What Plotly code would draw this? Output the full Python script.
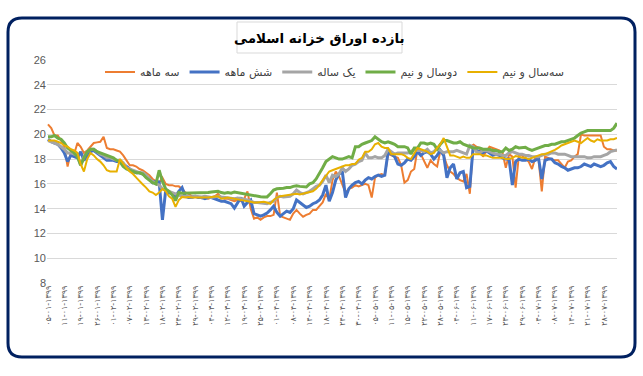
import plotly.graph_objects as go

# ---------------- data ----------------
series_names = ["سه ماهه", "شش ماهه", "یک ساله", "دوسال و نیم", "سه‌سال و نیم"]

three_month = [
    20.8, 20.5, 19.9, 19.9, 19.5, 19.0, 17.4, 18.6, 18.4, 19.3,
    19.0, 18.5, 18.7, 19.0, 19.3, 19.35, 19.4, 19.8, 18.9, 18.8,
    18.8, 18.7, 18.6, 18.3, 17.9, 17.5, 17.5, 17.4, 17.2, 17.1,
    16.9, 16.7, 16.4, 16.2, 16.1, 16.5, 16.0, 15.9, 15.9, 15.8,
    15.8, 15.6, 15.3, 15.2, 15.0, 15.0, 14.9, 14.85, 14.9, 14.8,
    14.9, 15.0, 15.2, 14.9, 14.8, 14.8, 14.7, 14.6, 14.7, 14.6,
    14.8, 15.4, 14.0, 13.2, 13.3, 13.1, 13.3, 13.4, 13.4, 13.5,
    15.3, 13.4, 13.3, 13.2, 13.1, 13.6, 13.9, 13.6, 13.35, 13.5,
    13.6, 13.9, 13.9, 14.2, 14.5, 15.2, 14.7, 16.3, 17.0, 16.6,
    16.0, 15.3, 15.6, 15.7, 15.9, 15.8, 15.9, 16.0, 15.9, 14.9,
    16.5, 16.7, 16.8, 16.7, 18.4, 18.3, 18.2, 18.1, 17.5, 16.1,
    16.3, 17.0, 17.2, 18.8, 18.4, 17.8, 17.3, 17.9, 17.6, 17.4,
    18.7, 18.3, 17.5, 17.0, 16.8, 16.5, 16.3, 16.2, 16.8, 15.2,
    19.2, 19.0, 18.9, 18.2, 18.6, 19.0, 18.9, 18.8, 18.7, 18.5,
    17.3, 18.4, 18.2, 15.7, 18.3, 18.3, 18.0, 17.8, 17.2, 18.1,
    18.0, 15.4, 18.2, 18.1, 18.0, 17.9, 17.9, 17.6, 17.3, 17.8,
    17.9, 18.2, 18.4, 20.0, 19.9, 19.9, 19.9, 19.9, 19.9, 19.9,
    19.0, 18.8, 18.8, 18.7, 18.7,
]

six_month = [
    19.6, 19.4, 19.3, 19.2, 18.9, 18.5, 17.8, 18.3, 18.2, 18.1,
    18.6, 17.9, 18.3, 18.6, 18.7, 18.5, 18.3, 18.1, 17.9, 17.9,
    17.9, 17.8, 17.8, 17.6, 17.4, 17.2, 17.0, 16.9, 16.9, 16.8,
    16.6, 16.4, 16.1, 16.2, 16.15, 13.1, 15.5, 15.3, 15.2, 15.0,
    15.4, 15.7, 15.0, 14.9, 14.9, 15.0, 14.9, 14.9, 14.8, 14.9,
    14.9, 14.8, 14.7, 14.6, 14.6, 14.5, 14.4, 14.05, 14.5, 14.9,
    14.2, 14.5, 14.7, 13.6, 13.5, 13.4, 13.5, 13.65, 13.9, 14.2,
    13.7, 13.4, 13.6, 13.8, 13.7, 14.0, 14.7, 14.5, 14.3, 14.1,
    14.2, 14.4, 14.5, 14.7, 15.1, 15.9, 14.6, 15.3, 16.3, 16.8,
    17.0, 14.9, 15.6, 15.9, 16.1, 16.2, 16.0, 16.3, 16.5, 16.4,
    16.6, 16.7, 16.6, 16.7, 18.6, 18.4, 18.2, 17.6, 17.5, 17.7,
    18.0, 17.9, 18.2, 18.6, 18.3, 18.5, 18.6, 18.4, 18.0, 18.3,
    18.7, 18.3, 16.5, 17.3, 17.6, 16.4, 16.9, 17.0, 15.7, 15.8,
    18.9, 18.7, 18.6, 18.5, 18.7, 18.5, 18.3, 18.4, 18.3, 18.1,
    18.0, 18.0, 15.9, 17.8, 18.0, 17.9, 17.9, 18.0, 17.8, 17.9,
    18.1, 16.4, 17.9, 18.0, 18.0, 17.7, 17.6, 17.4, 17.3, 17.1,
    17.2, 17.3, 17.3, 17.4, 17.6, 17.5, 17.4, 17.6, 17.5, 17.4,
    17.5, 17.7, 17.8, 17.4, 17.2,
]

one_year = [
    19.5, 19.4, 19.3, 19.2, 19.0, 18.8, 18.5, 18.5, 18.4, 18.3,
    17.5, 18.2, 18.6, 18.8, 18.8, 18.6, 18.4, 18.3, 18.1, 18.1,
    18.0, 17.9, 17.9, 17.7, 17.3, 17.2, 17.1, 17.0, 16.9, 16.9,
    16.7, 16.4, 16.2, 16.0, 15.9, 15.6, 15.5, 15.4, 15.3, 15.2,
    15.1, 15.0, 15.0, 14.95, 14.95, 15.0, 14.95, 14.95, 15.0, 14.95,
    14.9, 14.95, 15.0, 14.95, 14.9, 14.9, 14.85, 14.8, 14.85, 14.8,
    14.8, 14.7, 14.6, 14.5, 14.5, 14.45, 14.4, 14.4, 14.5, 14.6,
    14.9, 15.0, 14.95, 15.0, 15.0, 15.2, 15.5, 15.3, 15.2, 15.3,
    15.4, 15.6, 15.8, 15.9, 16.2, 16.7, 16.1, 16.7, 16.6, 16.8,
    17.3, 17.0, 17.2, 17.5, 17.6, 17.8, 17.9, 18.5, 18.1, 18.1,
    18.2, 18.1, 18.1, 18.3, 18.8, 18.6, 18.4, 18.5, 18.5, 18.5,
    18.5, 18.6, 18.8, 18.7, 18.7, 18.6, 18.8, 18.5, 18.6, 18.9,
    18.7, 18.5, 18.6, 18.6, 18.6, 18.7, 18.6, 18.5, 18.4, 19.1,
    19.0, 18.6, 18.5, 18.7, 18.7, 18.6, 18.5, 18.4, 18.4, 18.3,
    18.3, 18.5, 18.6, 18.5, 18.4, 18.4, 18.3, 18.3, 18.2, 18.2,
    18.2, 18.3, 18.4, 18.4, 18.5, 18.5, 18.4, 18.4, 18.4, 18.3,
    18.2, 18.2, 18.2, 18.2, 18.2, 18.1, 18.1, 18.2, 18.2, 18.2,
    18.3, 18.4, 18.6, 18.7, 18.75,
]

two_half_year = [
    19.8, 19.8, 19.9, 19.7, 19.6, 19.3, 18.9, 18.7, 18.5, 18.2,
    17.5, 18.1, 18.6, 18.8, 18.8, 18.6, 18.5, 18.4, 18.3, 18.2,
    18.1, 17.9, 17.8, 17.4, 17.2, 17.1, 17.0, 16.9, 16.9, 16.8,
    16.5, 16.3, 16.1, 16.0, 17.1, 16.2, 15.6, 15.4, 15.1, 14.65,
    15.3, 15.25, 15.25, 15.25, 15.3, 15.25, 15.25, 15.25, 15.3, 15.3,
    15.35, 15.35, 15.4, 15.3, 15.25, 15.3, 15.25, 15.35, 15.3, 15.25,
    15.2, 15.1, 15.05, 15.0, 15.0, 14.96, 14.95, 14.95, 15.2, 15.5,
    15.6, 15.6, 15.65, 15.7, 15.7, 15.8, 15.85, 15.8, 15.8, 15.75,
    16.0, 16.1, 16.4, 16.8, 17.3, 17.8, 18.0, 18.2, 18.1, 18.0,
    18.0, 18.1, 18.2, 18.1, 19.0, 19.0, 19.2, 19.3, 19.4, 19.5,
    19.8, 19.6, 19.4, 19.3, 19.4, 19.3, 19.2, 19.0, 19.0, 19.0,
    18.9, 18.4, 18.9, 18.9, 19.3, 19.3, 19.2, 19.3, 19.2, 18.8,
    19.2, 19.5, 19.5, 19.4, 19.3, 19.3, 19.4, 19.2, 19.1, 19.0,
    18.9, 18.9, 18.9, 18.8, 18.8, 18.8, 18.7, 18.7, 18.6, 18.6,
    18.9, 18.7, 18.8, 19.0, 18.9, 18.9, 18.95, 18.8, 18.7, 18.8,
    18.9, 19.0, 19.1, 19.1, 19.2, 19.2, 19.3, 19.4, 19.4, 19.5,
    19.6, 19.7, 19.9, 20.1, 20.2, 20.3, 20.3, 20.3, 20.3, 20.3,
    20.3, 20.3, 20.3, 20.5, 20.9,
]

three_half_year = [
    19.5, 19.5, 19.5, 19.4, 19.3, 19.1, 19.0, 18.8, 18.7, 18.5,
    17.6, 17.0, 18.0, 18.5, 18.3, 18.0, 17.8, 17.5, 17.1, 17.0,
    17.0, 17.0, 18.0, 17.6, 17.3, 17.0, 16.8, 16.5, 16.2, 15.95,
    15.7, 15.4, 15.3, 15.1, 15.3, 15.6, 15.4, 15.0, 14.8, 14.15,
    14.7, 14.95, 14.9, 14.95, 14.9, 14.9, 14.85, 14.85, 14.9, 14.9,
    14.95, 15.0, 15.0, 14.8, 14.85, 14.9, 14.85, 14.8, 14.7, 14.7,
    14.65, 14.6, 14.55, 14.5, 14.5, 14.55, 14.55, 14.5, 14.4, 14.7,
    14.9, 15.0, 15.05, 15.1, 15.1, 15.15, 15.2, 15.15, 15.2, 15.25,
    15.3, 15.4, 15.6, 15.9, 16.3, 16.7, 17.0, 17.1, 17.2, 17.3,
    17.4, 17.5, 17.5, 17.6, 17.6, 17.95, 18.1, 18.6, 18.6, 18.8,
    19.2, 19.3, 19.0, 18.9, 18.9, 18.4, 18.4, 18.4, 18.4, 18.3,
    18.1, 18.0, 18.4, 18.9, 18.8, 18.7, 18.6, 18.4, 18.5, 18.9,
    19.2, 19.7, 19.0, 18.3, 18.3, 18.2, 18.1, 18.2, 18.1, 18.1,
    18.4, 18.4, 18.4, 18.3, 18.3, 18.2, 18.1, 18.1, 18.1, 18.1,
    18.0, 18.0, 18.1, 18.25, 18.2, 18.1, 18.1, 18.0, 18.1, 18.2,
    18.3, 18.4, 18.4, 18.5, 18.6, 18.75, 18.9, 19.1, 19.2, 19.3,
    19.4, 19.5, 19.4, 19.3, 19.5, 19.7, 19.5, 19.4, 19.6, 19.5,
    19.5, 19.5, 19.6, 19.6, 19.7,
]

tick_labels = [
    "۰۵-۰۱-۱۳۹۹", "۱۱-۰۱-۱۳۹۹", "۱۹-۰۱-۱۳۹۹", "۲۶-۰۱-۱۳۹۹", "۰۱-۰۲-۱۳۹۹",
    "۰۷-۰۲-۱۳۹۹", "۱۳-۰۲-۱۳۹۹", "۱۸-۰۲-۱۳۹۹", "۲۴-۰۲-۱۳۹۹", "۲۹-۰۲-۱۳۹۹",
    "۰۴-۰۳-۱۳۹۹", "۱۲-۰۳-۱۳۹۹", "۱۹-۰۳-۱۳۹۹", "۲۵-۰۳-۱۳۹۹", "۰۱-۰۴-۱۳۹۹",
    "۰۸-۰۴-۱۳۹۹", "۱۴-۰۴-۱۳۹۹", "۱۸-۰۴-۱۳۹۹", "۲۴-۰۴-۱۳۹۹", "۳۰-۰۴-۱۳۹۹",
    "۰۵-۰۵-۱۳۹۹", "۱۱-۰۵-۱۳۹۹", "۱۵-۰۵-۱۳۹۹", "۲۲-۰۵-۱۳۹۹", "۲۸-۰۵-۱۳۹۹",
    "۰۴-۰۶-۱۳۹۹", "۱۱-۰۶-۱۳۹۹", "۱۷-۰۶-۱۳۹۹", "۲۳-۰۶-۱۳۹۹", "۲۹-۰۶-۱۳۹۹",
    "۰۴-۰۷-۱۳۹۹", "۰۸-۰۷-۱۳۹۹", "۱۴-۰۷-۱۳۹۹", "۲۱-۰۷-۱۳۹۹", "۲۸-۰۷-۱۳۹۹",
]
label_step = 5
title_text = "بازده اوراق خزانه اسلامی"

# ---------------- styling ----------------
colors = ["#ED7D31", "#4472C4", "#A5A5A5", "#70AD47", "#E8B000"]
widths = [2, 3, 3, 3, 2]
all_series = [three_month, six_month, one_year, two_half_year, three_half_year]

W, H = 643, 376
PL, PR, PT, PB = 47, 617, 60, 283


def px(x):
    return (x - PL) / (PR - PL)


def py(y):
    return (PB - y) / (PB - PT)


fig = go.Figure()
n = len(three_month)
xs = list(range(n))
for name, vals, c, w in zip(series_names, all_series, colors, widths):
    fig.add_trace(go.Scatter(x=xs, y=vals, mode="lines", name=name,
                             line=dict(color=c, width=w)))

# rounded outer border
x0, y0, x1, y1, r = 8, 18, 635, 357, 14
path = (
    f"M {px(x0 + r)},{py(y0)} L {px(x1 - r)},{py(y0)} "
    f"Q {px(x1)},{py(y0)} {px(x1)},{py(y0 + r)} "
    f"L {px(x1)},{py(y1 - r)} Q {px(x1)},{py(y1)} {px(x1 - r)},{py(y1)} "
    f"L {px(x0 + r)},{py(y1)} Q {px(x0)},{py(y1)} {px(x0)},{py(y1 - r)} "
    f"L {px(x0)},{py(y0 + r)} Q {px(x0)},{py(y0)} {px(x0 + r)},{py(y0)} Z"
)
fig.add_shape(type="path", path=path, xref="paper", yref="paper",
              line=dict(color="#002060", width=3), layer="above")
# title box
fig.add_shape(type="rect", xref="paper", yref="paper",
              x0=px(237), x1=px(402), y0=py(53), y1=py(22),
              line=dict(color="#D9D9D9", width=1), fillcolor="white")
fig.add_annotation(x=px(319.5), y=py(37.5), xref="paper", yref="paper",
                   text=f"<b>{title_text}</b>", showarrow=False,
                   font=dict(size=13.5, color="#000000", family="DejaVu Sans"),
                   xanchor="center", yanchor="middle")

fig.update_layout(
    width=W, height=H,
    margin=dict(l=PL, r=W - PR, t=PT, b=H - PB, autoexpand=False),
    paper_bgcolor="white", plot_bgcolor="white",
    font=dict(family="DejaVu Sans", color="#404040"),
    showlegend=True,
    legend=dict(orientation="h", x=px(335), xanchor="center",
                y=py(72), yanchor="middle", bgcolor="rgba(0,0,0,0)",
                font=dict(size=11, color="#404040"), itemwidth=30),
)
fig.update_yaxes(range=[8, 26], dtick=2, tick0=8, gridcolor="#D9D9D9",
                 zeroline=False, showline=False, automargin=False,
                 tickfont=dict(size=11, color="#595959", family="Liberation Sans"))
fig.update_xaxes(range=[-0.3, n - 1], showgrid=False, zeroline=False,
                 automargin=False, tickmode="array",
                 tickvals=list(range(0, n, label_step))[:len(tick_labels)],
                 ticktext=tick_labels, tickangle=-90,
                 tickfont=dict(size=8, color="#595959"))

fig.write_html("out.html",
               config={"displayModeBar": False},
               post_script="document.body.style.margin='0px';"
                           "document.body.style.overflow='hidden';")
